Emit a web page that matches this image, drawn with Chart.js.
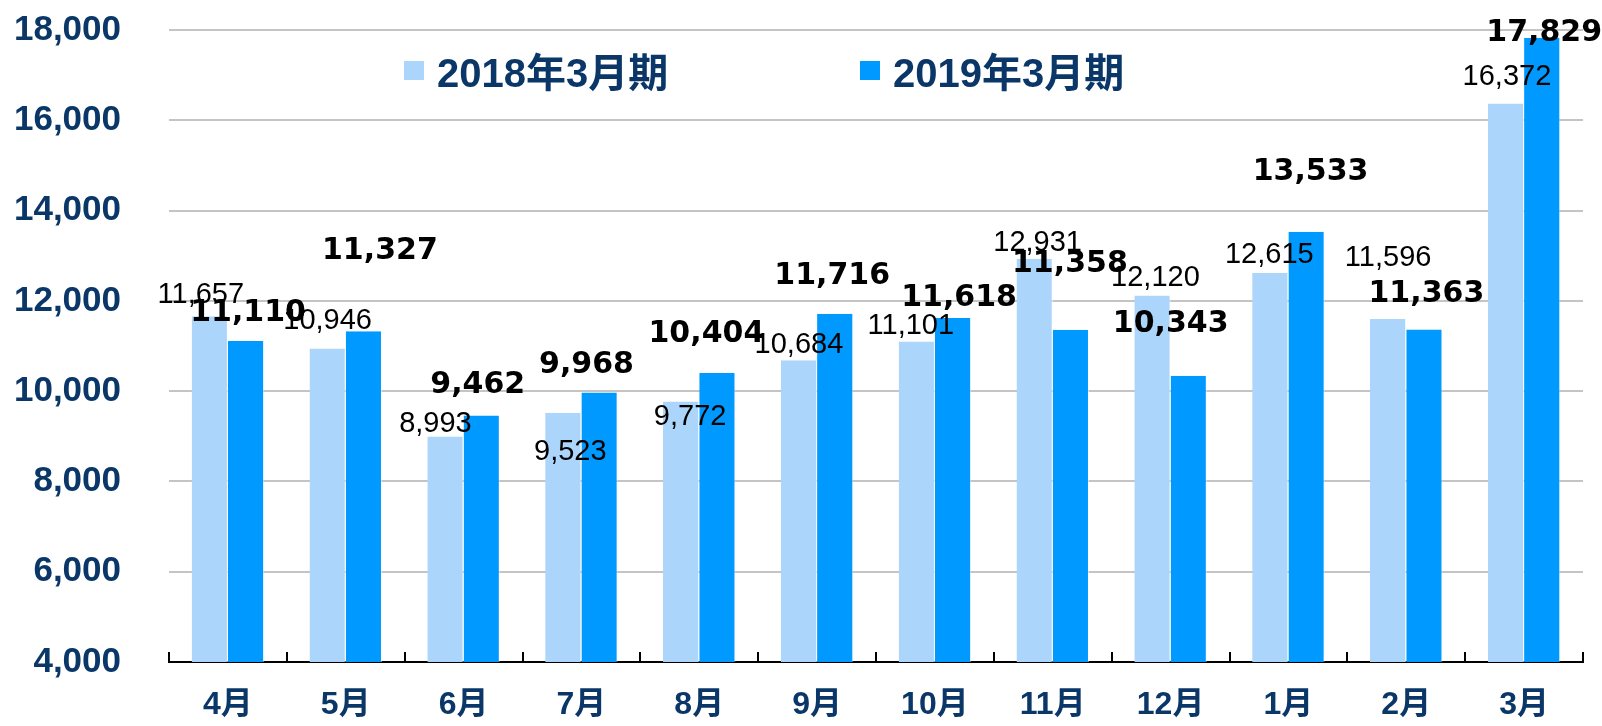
<!DOCTYPE html>
<html>
<head>
<meta charset="utf-8">
<script src="https://cdn.jsdelivr.net/npm/chart.js@4.4.1/dist/chart.umd.min.js"></script>
<style>
    html, body { margin: 0; padding: 0; background: #fff; }
    .wrap { position: relative; width: 1602px; height: 726px; }
    .legend-item {
        position: absolute; top: 41px; display: flex; align-items: center;
        font: bold 40px 'Liberation Sans', 'Noto Sans CJK JP', sans-serif; color: #0a3767;
        white-space: nowrap;
    }
    .legend-item span.box { display: inline-block; width: 20px; height: 19px; margin-right: 13px; }
</style>
</head>
<body>
<div class="wrap">
    <canvas id="chartMain" width="1602" height="726"></canvas>
    <div class="legend-item" style="left:404px"><span class="box" style="background:#acd5fb"></span>2018年3月期</div>
    <div class="legend-item" style="left:860px"><span class="box" style="background:#0099ff"></span>2019年3月期</div>
</div>
<script>
const months = ['4月', '5月', '6月', '7月', '8月', '9月', '10月', '11月', '12月', '1月', '2月', '3月'];
const fy2018 = [11657, 10946, 8993, 9523, 9772, 10684, 11101, 12931, 12120, 12615, 11596, 16372];
const fy2019 = [11110, 11327, 9462, 9968, 10404, 11716, 11618, 11358, 10343, 13533, 11363, 17829];
const yTicks = [4000, 6000, 8000, 10000, 12000, 14000, 16000, 18000];

// label nudges (px) relative to bar top centre, as placed in the original
const lblOff2018 = [[-9, -21], [0, -27], [-10, -13], [7, 39], [9, 16], [0, -15], [-6, -15], [3, -16], [3, -17], [-1, -18], [0, -61], [1, -26]];
const lblOff2019 = [[2, -28], [16, -80], [-4, -30], [-13, -27], [-11, -39], [-3, -37], [6, -20], [-1, -66], [-18, -51], [4, -59], [2, -35], [2, -5]];

const NAVY = '#0a3767';
const fmt = v => v.toLocaleString('en-US');

const valueLabels = {
    id: 'valueLabels',
    afterDatasetsDraw(chart) {
        const ctx = chart.ctx;
        ctx.save();
        ctx.textAlign = 'center';
        ctx.textBaseline = 'middle';
        ctx.fillStyle = '#000';
        chart.data.datasets.forEach((ds, di) => {
            const meta = chart.getDatasetMeta(di);
            const offs = di === 0 ? lblOff2018 : lblOff2019;
            ctx.font = di === 0 ? '29px "Liberation Sans", Arial, sans-serif' : 'bold 30px "DejaVu Sans", Verdana, sans-serif';
            meta.data.forEach((bar, i) => {
                ctx.fillText(fmt(ds.data[i]), bar.x + offs[i][0], bar.y + offs[i][1]);
            });
        });
        ctx.restore();
    }
};

// short upward tick marks on the category axis
const tickStubs = {
    id: 'tickStubs',
    afterDraw(chart) {
        const xs = chart.scales.x;
        const ctx = chart.ctx;
        const step = xs.width / months.length;
        ctx.save();
        ctx.strokeStyle = '#000';
        ctx.lineWidth = 2;
        ctx.beginPath();
        for (let i = 0; i <= months.length; i++) {
            const x = Math.round(xs.left + i * step);
            ctx.moveTo(x, xs.top);
            ctx.lineTo(x, xs.top - 10);
        }
        ctx.stroke();
        ctx.restore();
    }
};

new Chart(document.getElementById('chartMain'), {
    type: 'bar',
    data: {
        labels: months,
        datasets: [
            { label: '2018年3月期', data: fy2018, backgroundColor: '#acd5fb', borderColor: 'rgba(255,255,255,0.7)', borderWidth: { right: 1 }, borderSkipped: 'bottom' },
            { label: '2019年3月期', data: fy2019, backgroundColor: '#0099ff', borderColor: 'rgba(255,255,255,0.5)', borderWidth: { right: 1 }, borderSkipped: 'bottom' }
        ]
    },
    options: {
        responsive: false, animation: false,
        layout: { padding: { top: 30, right: 19 } },
        plugins: { legend: { display: false }, tooltip: { enabled: false } },
        datasets: { bar: { categoryPercentage: 0.615, barPercentage: 1.0 } },
        scales: {
            x: {
                grid: { display: false },
                border: { display: true, color: '#000', width: 2 },
                ticks: { color: NAVY, padding: 16, font: { family: '"Liberation Sans", "Noto Sans CJK JP", sans-serif', size: 32, weight: 'bold' } },
                afterFit: s => { s.height = 64; }
            },
            y: {
                min: 4000, max: 18000,
                afterBuildTicks: s => { s.ticks = yTicks.map(v => ({ value: v })); },
                grid: {
                    color: c => c.tick && c.tick.value === 4000 ? 'rgba(0,0,0,0)' : '#c4c4c4',
                    lineWidth: 2, drawTicks: true, tickLength: 48, tickColor: 'rgba(0,0,0,0)'
                },
                border: { display: false },
                ticks: { color: NAVY, padding: 0, callback: v => fmt(v), font: { family: '"Liberation Sans", Arial, sans-serif', size: 35, weight: 'bold' } },
                afterFit: s => { s.width = 169; }
            }
        }
    },
    plugins: [valueLabels, tickStubs]
});
</script>
</body>
</html>
